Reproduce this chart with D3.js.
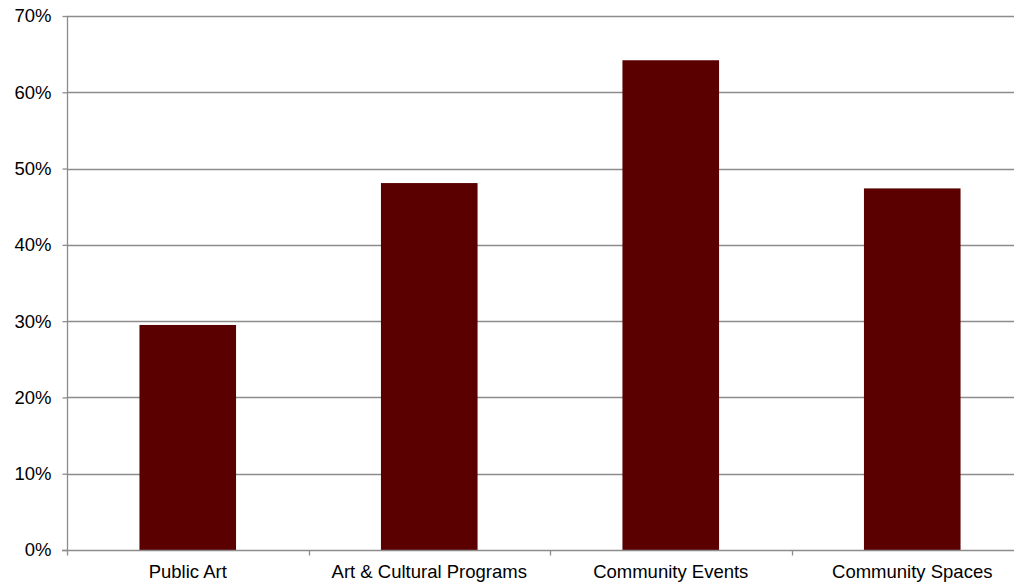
<!DOCTYPE html>
<html><head><meta charset="utf-8">
<script src="https://cdn.jsdelivr.net/npm/d3@7"></script>
<style>html,body{margin:0;padding:0;background:#fff;overflow:hidden}</style>
</head><body>
<script>
const categories = ["Public Art", "Art & Cultural Programs", "Community Events", "Community Spaces"];
const values = [29.5, 48.1, 64.2, 47.4];
const yTicks = [0, 10, 20, 30, 40, 50, 60, 70];

const W = 1014, H = 582;
const m = {left: 67, top: 16, bottom: 32};
const plotW = 966;
const svg = d3.select("body").append("svg").attr("width", W).attr("height", H)
  .style("font-family", "'Liberation Sans', Arial, sans-serif");

const x = d3.scaleBand().domain(categories).range([m.left, m.left + plotW])
  .paddingInner(0.6).paddingOuter(0.3);
const y = d3.scaleLinear().domain([0, 70]).range([H - m.bottom, m.top]);
const gridColor = "#8c8c8c";

// gridlines
svg.append("g").selectAll("line").data(yTicks.filter(d => d > 0)).join("line")
  .attr("x1", m.left).attr("x2", m.left + plotW)
  .attr("y1", d => Math.round(y(d)) + 0.5).attr("y2", d => Math.round(y(d)) + 0.5)
  .attr("stroke", gridColor).attr("stroke-width", 1.3);

// bars
svg.append("g").selectAll("rect").data(values).join("rect")
  .attr("x", (d, i) => x(categories[i]))
  .attr("width", x.bandwidth())
  .attr("y", d => y(d))
  .attr("height", d => y(0) - y(d))
  .attr("fill", "#5a0000");

// y axis
const yAxis = d3.axisLeft(y).tickValues(yTicks).tickFormat(d => d + "%").tickSize(5).tickPadding(11);
const gy = svg.append("g").attr("transform", `translate(${m.left + 0.5},0)`).call(yAxis);
gy.select(".domain").attr("stroke", gridColor).attr("stroke-width", 1.3).attr("d", `M0,${y(70)}V${y(0)}`);
gy.selectAll(".tick line").attr("stroke", gridColor).attr("stroke-width", 1.3);
gy.selectAll(".tick text").attr("fill", "#000").style("font-size", "18.5px")
  .style("font-family", "'Liberation Sans', Arial, sans-serif");

// x axis baseline
const y0 = Math.round(y(0)) + 0.5;
svg.append("line").attr("x1", m.left - 5).attr("x2", m.left + plotW)
  .attr("y1", y0).attr("y2", y0).attr("stroke", gridColor).attr("stroke-width", 1.3);
// x tick marks at band boundaries
const bounds = d3.range(categories.length + 1).map(i => m.left + i * x.step());
svg.append("g").selectAll("line").data(bounds).join("line")
  .attr("x1", d => Math.round(d) + 0.5).attr("x2", d => Math.round(d) + 0.5)
  .attr("y1", y0).attr("y2", y0 + 5).attr("stroke", gridColor).attr("stroke-width", 1.3);
// x labels
svg.append("g").selectAll("text").data(categories).join("text")
  .attr("x", d => x(d) + x.bandwidth() / 2).attr("y", 578)
  .attr("text-anchor", "middle").style("font-size", "18.5px").attr("fill", "#000")
  .text(d => d);
</script>
</body></html>
